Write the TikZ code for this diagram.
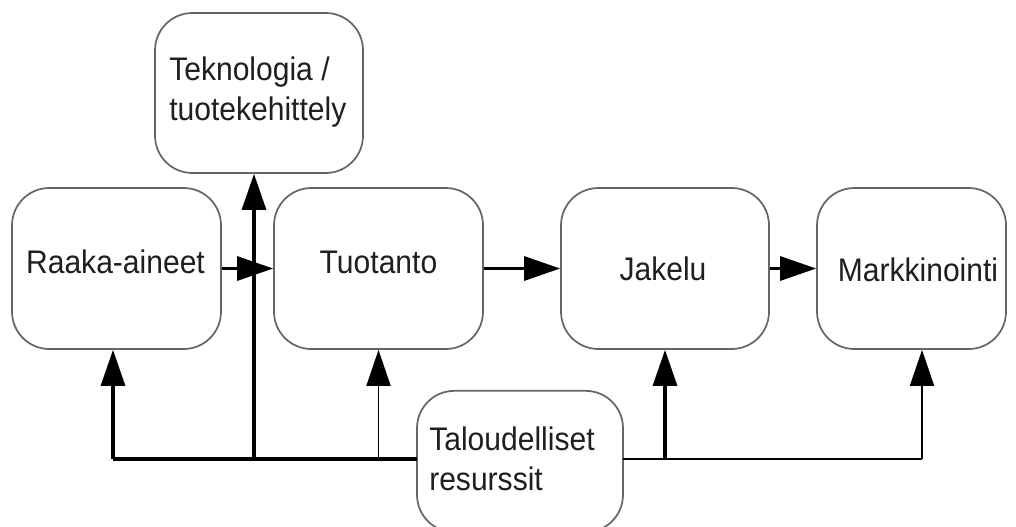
\documentclass[tikz,border=0pt]{standalone}
\usepackage{fontspec}
\setmainfont{Liberation Sans}[FakeStretch=0.92]
\usetikzlibrary{arrows.meta}
\begin{document}
\begin{tikzpicture}[x=0.75pt,y=-0.75pt,
  box/.style={draw=black!60, line width=1.3pt, rounded corners=28pt, inner sep=0pt, fill=white},
  lbl/.style={inner sep=0pt, text=black!88, font=\fontsize{24.5}{30}\selectfont, align=left},
  thickarr/.style={line width=2.3pt, -{Triangle[length=27pt,width=18pt]}},
  thinarr/.style={line width=1.3pt, -{Triangle[length=27pt,width=18pt]}},
  thickline/.style={line width=2.3pt},
  thinline/.style={line width=1.3pt}]
\useasboundingbox (0,0) rectangle (1016,526);
% boxes
\node[box, minimum width=156pt, minimum height=120pt] (tek) at (259,93) {};
\node[box, minimum width=156.75pt, minimum height=120.75pt] (raa) at (116.5,268.5) {};
\node[box, minimum width=156.75pt, minimum height=120.75pt] (tuo) at (378.5,268.5) {};
\node[box, minimum width=156pt, minimum height=120.75pt] (jak) at (665,268.5) {};
\node[box, minimum width=141.75pt, minimum height=120.75pt] (mar) at (911.5,268.5) {};
\node[box, minimum width=154.5pt, minimum height=106pt] (tal) at (520,461.5) {};
% labels
\node[lbl, anchor=base west] (tekT) at (169,120) {Teknologia /\\tuotekehittely};
\node[lbl, anchor=base] (raaT) at (115.5,273) {Raaka-aineet};
\node[lbl, anchor=base] (tuoT) at (378.5,273) {Tuotanto};
\node[lbl, anchor=base] (jakT) at (663,280) {Jakelu};
\node[lbl, anchor=base] (marT) at (918,281) {Markkinointi};
\node[lbl, anchor=base west] (talT) at (429,490) {Taloudelliset\\resurssit};
% chain
\draw[thickarr] (raa.east) -- (tuo.west);
\draw[thickarr] (tuo.east) -- (jak.west);
\draw[thickarr] (jak.east) -- (mar.west);
% resources
\coordinate (r1) at (113,459);
\coordinate (j1) at (254,459);
\coordinate (m1) at (922,459);
\coordinate (t1) at (417,459);
\coordinate (t2) at (623,459);
\draw[thickline] (t1) -- (r1);
\draw[thickarr] (r1) -- (raa.south -| r1);
\draw[thinarr] (t1) -| (tuo.south);
\draw[thickarr] (j1) -- (tek.south -| j1);
\draw[thinline] (t2) -- (m1);
\draw[thinarr] (m1) -- (mar.south -| m1);
\draw[thickarr] (t2 -| jak.south) -- (jak.south);
\end{tikzpicture}
\end{document}
